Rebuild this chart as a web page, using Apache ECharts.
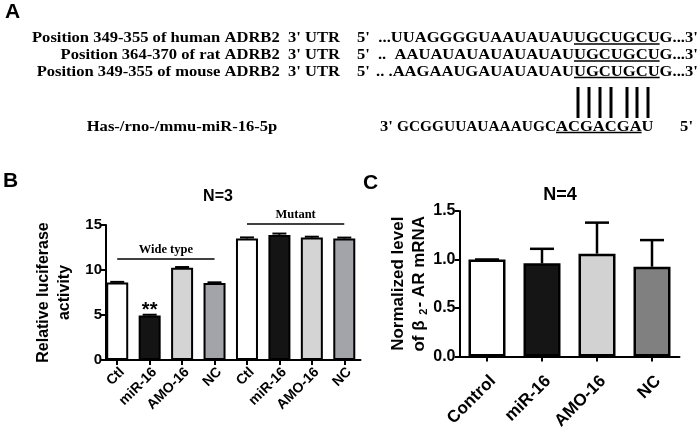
<!DOCTYPE html>
<html><head><meta charset="utf-8">
<script src="https://cdn.jsdelivr.net/npm/echarts@6/dist/echarts.min.js"></script>
<style>html,body{margin:0;padding:0;background:#fff}#c{width:700px;height:432px}</style>
</head><body><div id="c"></div>
<script>
// ---- Panel A text content ----
const seqLabels = ["Position 349-355 of human ADRB2  3' UTR", "Position 364-370 of rat ADRB2  3' UTR", "Position 349-355 of mouse ADRB2  3' UTR"];
const seqStart = ["5'", "5'", "5'"];
const seqPrefix = ["...UUAGGGGUAAUAUAU", "..  AAUAUAUAUAUAUAU", ".. .AAGAAUGAUAUAUAU"];
const seqSite = ["UGCUGCU", "UGCUGCU", "UGCUGCU"];
const seqSuffix = ["G...3'", "G...3'", "G...3'"];
const mirLabel = "Has-/rno-/mmu-miR-16-5p";
const mirStart = "3'";
const mirPrefix = "GCGGUUAUAAAUGC";
const mirSite = "ACGACGA";
const mirSuffix = "U";
const mirEnd = "5'";

// ---- Panel B data ----
const bCategories = ['Ctl', 'miR-16', 'AMO-16', 'NC', 'Ctl', 'miR-16', 'AMO-16', 'NC'];
const bValues = [8.6, 4.95, 10.25, 8.55, 13.5, 13.9, 13.6, 13.5];
const bErrors = [0.08, 0.08, 0.08, 0.08, 0.12, 0.15, 0.1, 0.1];
const bGroups = ['Wide type', 'Mutant'];
const bTitle = 'N=3';
const bYName = 'Relative luciferase\nactivity';

// ---- Panel C data ----
const cCategories = ['Control', 'miR-16', 'AMO-16', 'NC'];
const cValues = [1.0, 0.96, 1.06, 0.925];
const cErrors = [0.0, 0.15, 0.32, 0.275];
const cTitle = 'N=4';

// ---- styles ----
const bColors = ['#ffffff', '#141414', '#d4d4d4', '#a3a3aa', '#ffffff', '#141414', '#d4d4d4', '#a3a3aa'];
const cColors = ['#ffffff', '#151515', '#d2d2d2', '#808080'];
const SANS = 'Arial, "Liberation Sans", sans-serif';
const SERIF = '"Times New Roman", "Liberation Serif", serif';
const serifFont = 'bold 14px "Liberation Serif", "Times New Roman", serif';

const ctx = document.createElement('canvas').getContext('2d');
ctx.font = serifFont;
const raw = t => ctx.measureText(t).width;
const S = 308 / raw(seqLabels[0]); // horizontal stretch of panel A text
const tw = t => raw(t) * S;

function txt(text, x, y, align, font, vAlign, sx) {
  return {type: 'text', x: x, y: y, silent: true, scaleX: sx || 1,
    style: {text: text, font: font || serifFont, fill: '#000', textAlign: align || 'left', textVerticalAlign: vAlign || 'middle'}};
}
function stxt(text, x, y, align, sx) { return txt(text, x, y, align, serifFont, 'middle', sx || S); }
function ln(x1, y1, x2, y2, w) {
  return {type: 'line', silent: true, shape: {x1: x1, y1: y1, x2: x2, y2: y2}, style: {stroke: '#000', lineWidth: w || 1.3}};
}

const graphics = [];
const rowY = [38.5, 55.5, 72];
const siteX = 574;
for (let i = 0; i < 3; i++) {
  const y = rowY[i];
  graphics.push(stxt(seqLabels[i], 340, y, 'right'));
  graphics.push(stxt(seqStart[i], 357, y, 'left'));
  graphics.push(stxt(seqPrefix[i], siteX, y, 'right'));
  graphics.push(stxt(seqSite[i], siteX, y, 'left'));
  const sw = tw(seqSite[i]);
  graphics.push(ln(siteX, y + 5.5, siteX + sw, y + 5.5));
  graphics.push(stxt(seqSuffix[i], siteX + sw, y, 'left'));
}
const mirY = 127, mirX = 556;
graphics.push(stxt(mirLabel, 182, mirY, 'center'));
graphics.push(stxt(mirStart, 380, mirY, 'left'));
graphics.push(stxt(mirPrefix, mirX, mirY, 'right', (mirX - 397) / raw(mirPrefix)));
graphics.push(stxt(mirSite, mirX, mirY, 'left'));
const mw = tw(mirSite);
graphics.push(ln(mirX, mirY + 5.5, mirX + mw, mirY + 5.5));
graphics.push(stxt(mirSuffix, mirX + mw, mirY, 'left'));
graphics.push(stxt(mirEnd, 693, mirY, 'right'));
// pairing bars
[4, 15, 26, 37, 53, 63, 74].forEach(o => graphics.push(ln(siteX + o, 87, siteX + o, 118, 3)));

// panel letters and titles
graphics.push(txt('A', 5, 2, 'left', 'bold 21px ' + SANS, 'top'));
graphics.push(txt('B', 3, 171, 'left', 'bold 21px ' + SANS, 'top'));
graphics.push(txt('C', 363, 173, 'left', 'bold 21px ' + SANS, 'top'));
graphics.push(txt(bTitle, 218, 197, 'center', 'bold 16px ' + SANS));
graphics.push(txt(cTitle, 560, 195, 'center', 'bold 18px ' + SANS));

function errSeries(xi, vals, errs, capW, lw) {
  return {
    type: 'custom', xAxisIndex: xi, yAxisIndex: xi, z: 10, silent: true,
    data: vals.map((v, i) => [i, v, v + errs[i]]),
    encode: {x: 0, y: [1, 2]},
    renderItem: (params, api) => {
      const x = api.value(0);
      const p0 = api.coord([x, api.value(1)]);
      const p1 = api.coord([x, api.value(2)]);
      return {type: 'group', children: [
        {type: 'line', shape: {x1: p0[0], y1: p0[1], x2: p1[0], y2: p1[1]}, style: {stroke: '#000', lineWidth: lw}},
        {type: 'line', shape: {x1: p1[0] - capW / 2, y1: p1[1], x2: p1[0] + capW / 2, y2: p1[1]}, style: {stroke: '#000', lineWidth: lw}}
      ]};
    }
  };
}

const axisLine = {show: true, lineStyle: {color: '#000', width: 2}};
const axisTick = {show: true, length: 5, lineStyle: {color: '#000', width: 2}};
const hidden = {show: false};

const option = {
  animation: false,
  backgroundColor: '#fff',
  graphic: graphics,
  grid: [
    {left: 101, width: 259.5, top: 225, bottom: 72},
    {left: 459.5, width: 220, top: 211, bottom: 74},
    // overlay grid for panel B group brackets (same scale as grid 0, taller)
    {left: 101, width: 259.5, top: 195, bottom: 72}
  ],
  xAxis: [
    {type: 'category', gridIndex: 0, data: bCategories, axisLine: axisLine,
     axisTick: Object.assign({alignWithLabel: true}, axisTick),
     axisLabel: {rotate: 45, margin: 5, verticalAlign: 'top', color: '#000', fontFamily: SANS, fontWeight: 'bold', fontSize: 14, interval: 0}},
    {type: 'category', gridIndex: 1, data: cCategories, axisLine: axisLine,
     axisTick: Object.assign({alignWithLabel: true}, axisTick),
     axisLabel: {rotate: 45, margin: 16, verticalAlign: 'top', color: '#000', fontFamily: SANS, fontWeight: 'bold', fontSize: 17, interval: 0}},
    {type: 'category', gridIndex: 2, data: bCategories, show: false}
  ],
  yAxis: [
    {type: 'value', gridIndex: 0, min: 0, max: 15, interval: 5, offset: -5,
     axisLine: axisLine, axisTick: axisTick, splitLine: hidden,
     axisLabel: {margin: 4, color: '#000', fontFamily: SANS, fontWeight: 'bold', fontSize: 15},
     name: bYName, nameLocation: 'middle', nameGap: 31, nameRotate: 90,
     nameTextStyle: {color: '#000', fontFamily: SANS, fontWeight: 'bold', fontSize: 16, lineHeight: 21}},
    {type: 'value', gridIndex: 1, min: 0, max: 1.5, interval: 0.5,
     axisLine: axisLine, axisTick: axisTick, splitLine: hidden,
     axisLabel: {margin: 4, color: '#000', fontFamily: SANS, fontWeight: 'bold', fontSize: 16, formatter: v => v.toFixed(1)},
     name: '{a|Normalized level}\n{a|of β }{s|2}{a|- AR mRNA}', nameLocation: 'middle', nameGap: 30, nameRotate: 90,
     nameTextStyle: {color: '#000', rich: {
       a: {fontFamily: SANS, fontWeight: 'bold', fontSize: 17, lineHeight: 21, color: '#000'},
       s: {fontFamily: SANS, fontWeight: 'bold', fontSize: 11, lineHeight: 21, verticalAlign: 'bottom', color: '#000', padding: [0, 1, 0, 1]}
     }}},
    {type: 'value', gridIndex: 2, min: 0, max: 15 * 165 / 135, show: false, splitLine: hidden}
  ],
  series: [
    {type: 'bar', xAxisIndex: 0, yAxisIndex: 0, barWidth: 22,
     data: bValues.map((v, i) => {
       const d = {value: v, itemStyle: {color: bColors[i], borderColor: '#000', borderWidth: 2}};
       if (i === 1) d.label = {show: true, position: 'top', distance: -5, formatter: '**', color: '#000', fontFamily: SANS, fontWeight: 'bold', fontSize: 20};
       return d;
     })},
    errSeries(0, bValues, bErrors, 14, 2),
    {type: 'line', xAxisIndex: 2, yAxisIndex: 2, data: [], silent: true,
     markLine: {silent: true, symbol: 'none', animation: false,
       lineStyle: {color: '#000', width: 1.5, type: 'solid'},
       label: {show: true, position: 'insideMiddleTop', distance: 3, color: '#000', fontFamily: SERIF, fontWeight: 'bold', fontSize: 12.5},
       data: [
         [{coord: [0, 11.2], label: {formatter: bGroups[0]}}, {coord: [3, 11.2]}],
         [{coord: [4, 15.1], label: {formatter: bGroups[1]}}, {coord: [7, 15.1]}]
       ]}},
    {type: 'bar', xAxisIndex: 1, yAxisIndex: 1, barWidth: 37,
     data: cValues.map((v, i) => ({value: v, itemStyle: {color: cColors[i], borderColor: '#000', borderWidth: 2.5}}))},
    errSeries(1, cValues, cErrors, 24, 2.5)
  ]
};
const chart = echarts.init(document.getElementById('c'), null, {renderer: 'canvas'});
chart.setOption(option);
</script></body></html>
